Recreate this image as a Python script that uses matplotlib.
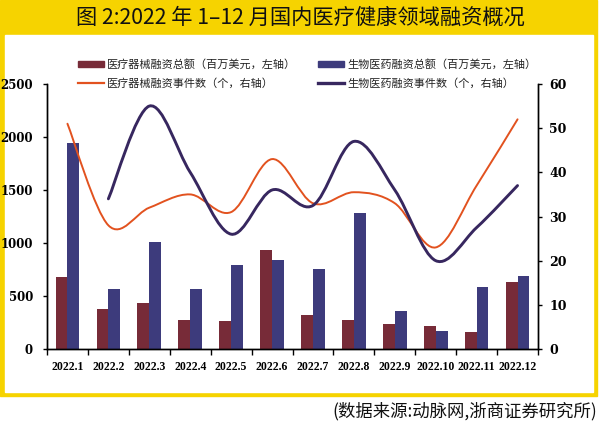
import numpy as np
import matplotlib
matplotlib.use("Agg")
import matplotlib.pyplot as plt
from matplotlib.path import Path
from matplotlib.patches import PathPatch, Patch, Rectangle
from matplotlib.lines import Line2D

plt.rcParams['font.family'] = ['Noto Sans CJK SC', 'DejaVu Sans']

months = ["2022.1", "2022.2", "2022.3", "2022.4", "2022.5", "2022.6",
          "2022.7", "2022.8", "2022.9", "2022.10", "2022.11", "2022.12"]
device_amount = [675, 378, 438, 278, 262, 935, 321, 271, 233, 220, 157, 629]
pharma_amount = [1940, 565, 1012, 568, 795, 837, 758, 1280, 361, 173, 582, 686]
device_events = [51, 28, 32, 35, 31, 43, 33, 35.5, 33, 23, 37, 52]
pharma_events = [np.nan, 34, 55, 40, 26, 36, 32.5, 47, 36, 20, 27.5, 37]

left_ticks = [0, 500, 1000, 1500, 2000, 2500]
right_ticks = [0, 10, 20, 30, 40, 50, 60]

labels = ["医疗器械融资总额（百万美元，左轴）", "医疗器械融资事件数（个，右轴）",
          "生物医药融资总额（百万美元，左轴）", "生物医药融资事件数（个，右轴）"]

c_dev_bar = "#772b38"
c_pha_bar = "#3d3b7c"
c_dev_line = "#e2521f"
c_pha_line = "#37275f"
yellow = "#f6d300"

W, H = 600, 425
fig = plt.figure(figsize=(6, 4.25), dpi=100)

# frame
fig.patches.append(Rectangle((0, 1 - 396 / H), 597 / W, 396 / H,
                             transform=fig.transFigure, color=yellow, zorder=0))
fig.patches.append(Rectangle((5 / W, 1 - 392 / H), 588 / W, (392 - 35) / H,
                             transform=fig.transFigure, color="white", zorder=0.5))
fig.text(300 / W, 1 - 18 / H, "图 2:2022 年 1–12 月国内医疗健康领域融资概况",
         ha="center", va="center", fontsize=15.3, color="#111111")
fig.text(597 / W, 1 - 411 / H, "(数据来源:动脉网,浙商证券研究所)",
         ha="right", va="center", fontsize=12.5, color="#111111")

ax = fig.add_axes([47 / W, 1 - 349 / H, (538 - 47) / W, (349 - 84) / H])
ax.set_zorder(2)
ax.patch.set_visible(False)
ax2 = ax.twinx()
ax2.set_zorder(3)
ax2.patch.set_visible(False)

x = np.arange(len(months))
bw = 0.29
ax.bar(x - bw / 2, device_amount, width=bw, color=c_dev_bar, zorder=2)
ax.bar(x + bw / 2, pharma_amount, width=bw, color=c_pha_bar, zorder=2)
ax.set_xlim(-0.5, len(months) - 0.5)
ax.set_ylim(0, 2500)
ax2.set_ylim(0, 60)


def smooth_path(xs, ys):
    pts = [(xi, yi) for xi, yi in zip(xs, ys) if not np.isnan(yi)]
    P = np.array(pts, dtype=float)
    n = len(P)
    verts = [tuple(P[0])]
    codes = [Path.MOVETO]
    for i in range(n - 1):
        p0 = P[i - 1] if i > 0 else P[i]
        p1 = P[i]
        p2 = P[i + 1]
        p3 = P[i + 2] if i + 2 < n else P[i + 1]
        c1 = p1 + (p2 - p0) / 6.0
        c2 = p2 - (p3 - p1) / 6.0
        verts += [tuple(c1), tuple(c2), tuple(p2)]
        codes += [Path.CURVE4] * 3
    return Path(verts, codes)


ax2.add_patch(PathPatch(smooth_path(x, device_events), fill=False,
                        edgecolor=c_dev_line, lw=1.4, capstyle="round"))
ax2.add_patch(PathPatch(smooth_path(x, pharma_events), fill=False,
                        edgecolor=c_pha_line, lw=2.1, capstyle="round"))

# axes styling
for a in (ax, ax2):
    a.spines["top"].set_visible(False)
    for s in ("left", "right", "bottom"):
        a.spines[s].set_color("black")
        a.spines[s].set_linewidth(1.0)

ax.set_yticks(left_ticks)
ax.set_yticklabels([str(t) for t in left_ticks],
                   fontfamily="DejaVu Serif", fontweight="bold", fontsize=8.5)
ax.tick_params(axis="y", direction="out", length=3, width=1, pad=7)
ax2.set_yticks(right_ticks)
ax2.set_yticklabels([str(t) for t in right_ticks],
                    fontfamily="DejaVu Serif", fontweight="bold", fontsize=9)
ax2.tick_params(axis="y", direction="out", length=3, width=1, pad=5)

ax.set_xticks(x)
ax.set_xticklabels(months, fontfamily="Liberation Serif", fontweight="bold", fontsize=8.5)
ax.set_xticks(np.arange(-0.5, len(months)), minor=True)
ax.tick_params(axis="x", which="major", length=0, pad=9)
ax.tick_params(axis="x", which="minor", direction="out", length=4, width=1)

handles = [Patch(color=c_dev_bar), Line2D([], [], color=c_dev_line, lw=1.6),
           Patch(color=c_pha_bar), Line2D([], [], color=c_pha_line, lw=2.4)]
leg = fig.legend(handles, labels, ncol=2, loc="upper left",
                 bbox_to_anchor=(78 / W, 1 - 59 / H), bbox_transform=fig.transFigure,
                 frameon=False, fontsize=8, handlelength=2.3, handleheight=0.5,
                 handletextpad=0.3, columnspacing=2.0, labelspacing=0.75,
                 borderpad=0, borderaxespad=0)
leg.set_zorder(5)
for t in leg.get_texts():
    t.set_color("#222222")

fig.savefig("out.png", dpi=100)
